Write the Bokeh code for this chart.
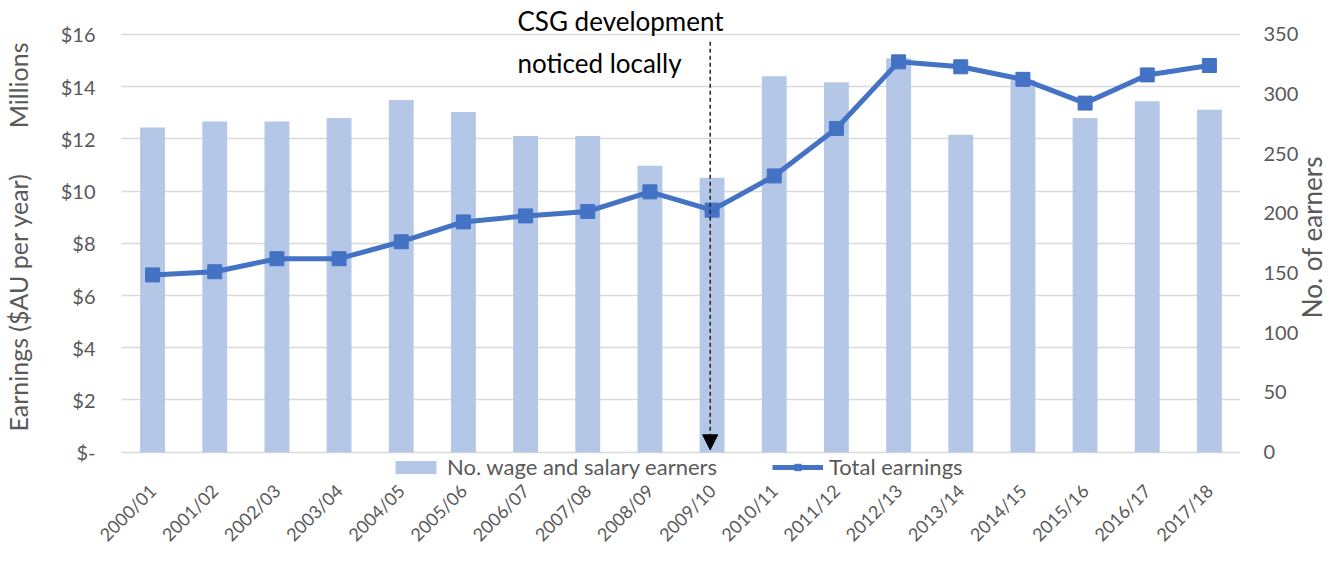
import math
from bokeh.plotting import figure
from bokeh.models import (Range1d, LinearAxis, FixedTicker, Label, Arrow, NormalHead,
                          Legend, LegendItem, FactorRange)
from bokeh.embed import file_html
from bokeh.resources import INLINE

# ---------------- data ----------------
years = ["2000/01", "2001/02", "2002/03", "2003/04", "2004/05", "2005/06",
         "2006/07", "2007/08", "2008/09", "2009/10", "2010/11", "2011/12",
         "2012/13", "2013/14", "2014/15", "2015/16", "2016/17", "2017/18"]
earners = [272, 277, 277, 280, 295, 285, 265, 265, 240, 230,
           315, 310, 330, 266, 312, 280, 294, 287]
earnings_m = [6.79, 6.91, 7.41, 7.41, 8.06, 8.82, 9.05, 9.22, 9.97, 9.27,
              10.58, 12.40, 14.95, 14.76, 14.28, 13.37, 14.45, 14.81]
left_ticks = [0, 2, 4, 6, 8, 10, 12, 14, 16]
left_tick_labels = ["$-", "$2", "$4", "$6", "$8", "$10", "$12", "$14", "$16"]
right_ticks = [0, 50, 100, 150, 200, 250, 300, 350]

FONT = "Lato"
GREY = "#595959"
BAR = "#B4C7E7"
LINE = "#4472C4"
GRID = "#D9D9D9"

Y_TOP = 17.3                      # headroom above $16 for the annotation
Y_BOT = -1.2                      # room under $0 for the legend
R_TOP = Y_TOP * 350 / 16
R_BOT = Y_BOT * 350 / 16

p = figure(x_range=FactorRange(*years), y_range=Range1d(Y_BOT, Y_TOP),
           frame_width=1119, frame_height=483,
           min_border_left=115, min_border_right=109, min_border_top=0,
           min_border_bottom=90,
           output_backend="svg", toolbar_location=None,
           outline_line_color=None, background_fill_color="white")
p.extra_y_ranges = {"right": Range1d(R_BOT, R_TOP)}

bars = p.vbar(x=years, top=earners, width=0.4, y_range_name="right",
              fill_color=BAR, line_color=None)
line = p.line(x=years, y=earnings_m, line_color=LINE, line_width=5)
pts = p.scatter(x=years, y=earnings_m, marker="square", size=14,
                fill_color=LINE, line_color=LINE)

# grid
p.xgrid.visible = False
p.ygrid.ticker = FixedTicker(ticks=left_ticks)
p.ygrid.grid_line_color = GRID
p.ygrid.grid_line_width = 1.5


def bare(axis):
    axis.axis_line_color = None
    axis.major_tick_line_color = None
    axis.minor_tick_line_color = None
    axis.major_tick_out = 0
    axis.major_tick_in = 0
    axis.major_label_text_font = FONT
    axis.major_label_text_color = GREY


# left axis
la = p.yaxis[0]
bare(la)
la.ticker = FixedTicker(ticks=left_ticks)
la.major_label_overrides = {t: s for t, s in zip(left_ticks, left_tick_labels)}
la.major_label_standoff = 26
la.major_label_text_font_size = "20px"

# left axis titles, placed as labels of a bare outer axis (same column)
TITLE_EARN_Y = 5.74
TITLE_MIL_Y = 14.05
lt = LinearAxis(ticker=FixedTicker(ticks=[TITLE_EARN_Y, TITLE_MIL_Y]))
bare(lt)
lt.major_label_overrides = {TITLE_EARN_Y: "Earnings ($AU per year)", TITLE_MIL_Y: "Millions"}
lt.major_label_orientation = "vertical"
lt.major_label_standoff = 24
lt.major_label_text_font_size = "25px"
p.add_layout(lt, "left")

# right axis
ra = LinearAxis(y_range_name="right", ticker=FixedTicker(ticks=right_ticks))
bare(ra)
ra.major_label_standoff = 23
ra.major_label_text_font_size = "20px"
p.add_layout(ra, "right")

TITLE_R_Y = 5.13
rt = LinearAxis(ticker=FixedTicker(ticks=[TITLE_R_Y]))
bare(rt)
rt.major_label_overrides = {TITLE_R_Y: "No. of earners"}
rt.major_label_orientation = math.pi / 2
rt.major_label_standoff = 11
rt.major_label_text_font_size = "26px"
p.add_layout(rt, "right")

# x axis (its baseline is drawn by the $0 grid line)
xa = p.xaxis[0]
bare(xa)
xa.major_label_orientation = math.pi / 4
xa.major_label_standoff = 4
xa.major_label_text_font_size = "18px"

# annotation
p.add_layout(Label(x=6.37, y=16.52, text="CSG development", text_align="left",
                   text_baseline="middle", text_font=FONT, text_font_size="26px",
                   text_color="black"))
p.add_layout(Label(x=6.37, y=14.91, text="noticed locally", text_align="left",
                   text_baseline="middle", text_font=FONT, text_font_size="26px",
                   text_color="black"))
p.add_layout(Arrow(end=NormalHead(size=15, fill_color="black", line_color="black"),
                   x_start=9.47, y_start=15.72, x_end=9.47, y_end=0.09,
                   line_dash="4 3", line_width=1.5, line_color="#222222"))

legend = Legend(items=[LegendItem(label="No. wage and salary earners", renderers=[bars]),
                       LegendItem(label="Total earnings", renderers=[line, pts])],
                orientation="horizontal", location=(269, 3),
                glyph_width=51, glyph_height=16, label_standoff=6, spacing=55,
                padding=0, margin=0, border_line_color=None,
                background_fill_alpha=0,
                label_text_font=FONT, label_text_font_size="22px",
                label_text_color=GREY)
p.add_layout(legend, "center")

open("out.html", "w").write(file_html(p, INLINE))
